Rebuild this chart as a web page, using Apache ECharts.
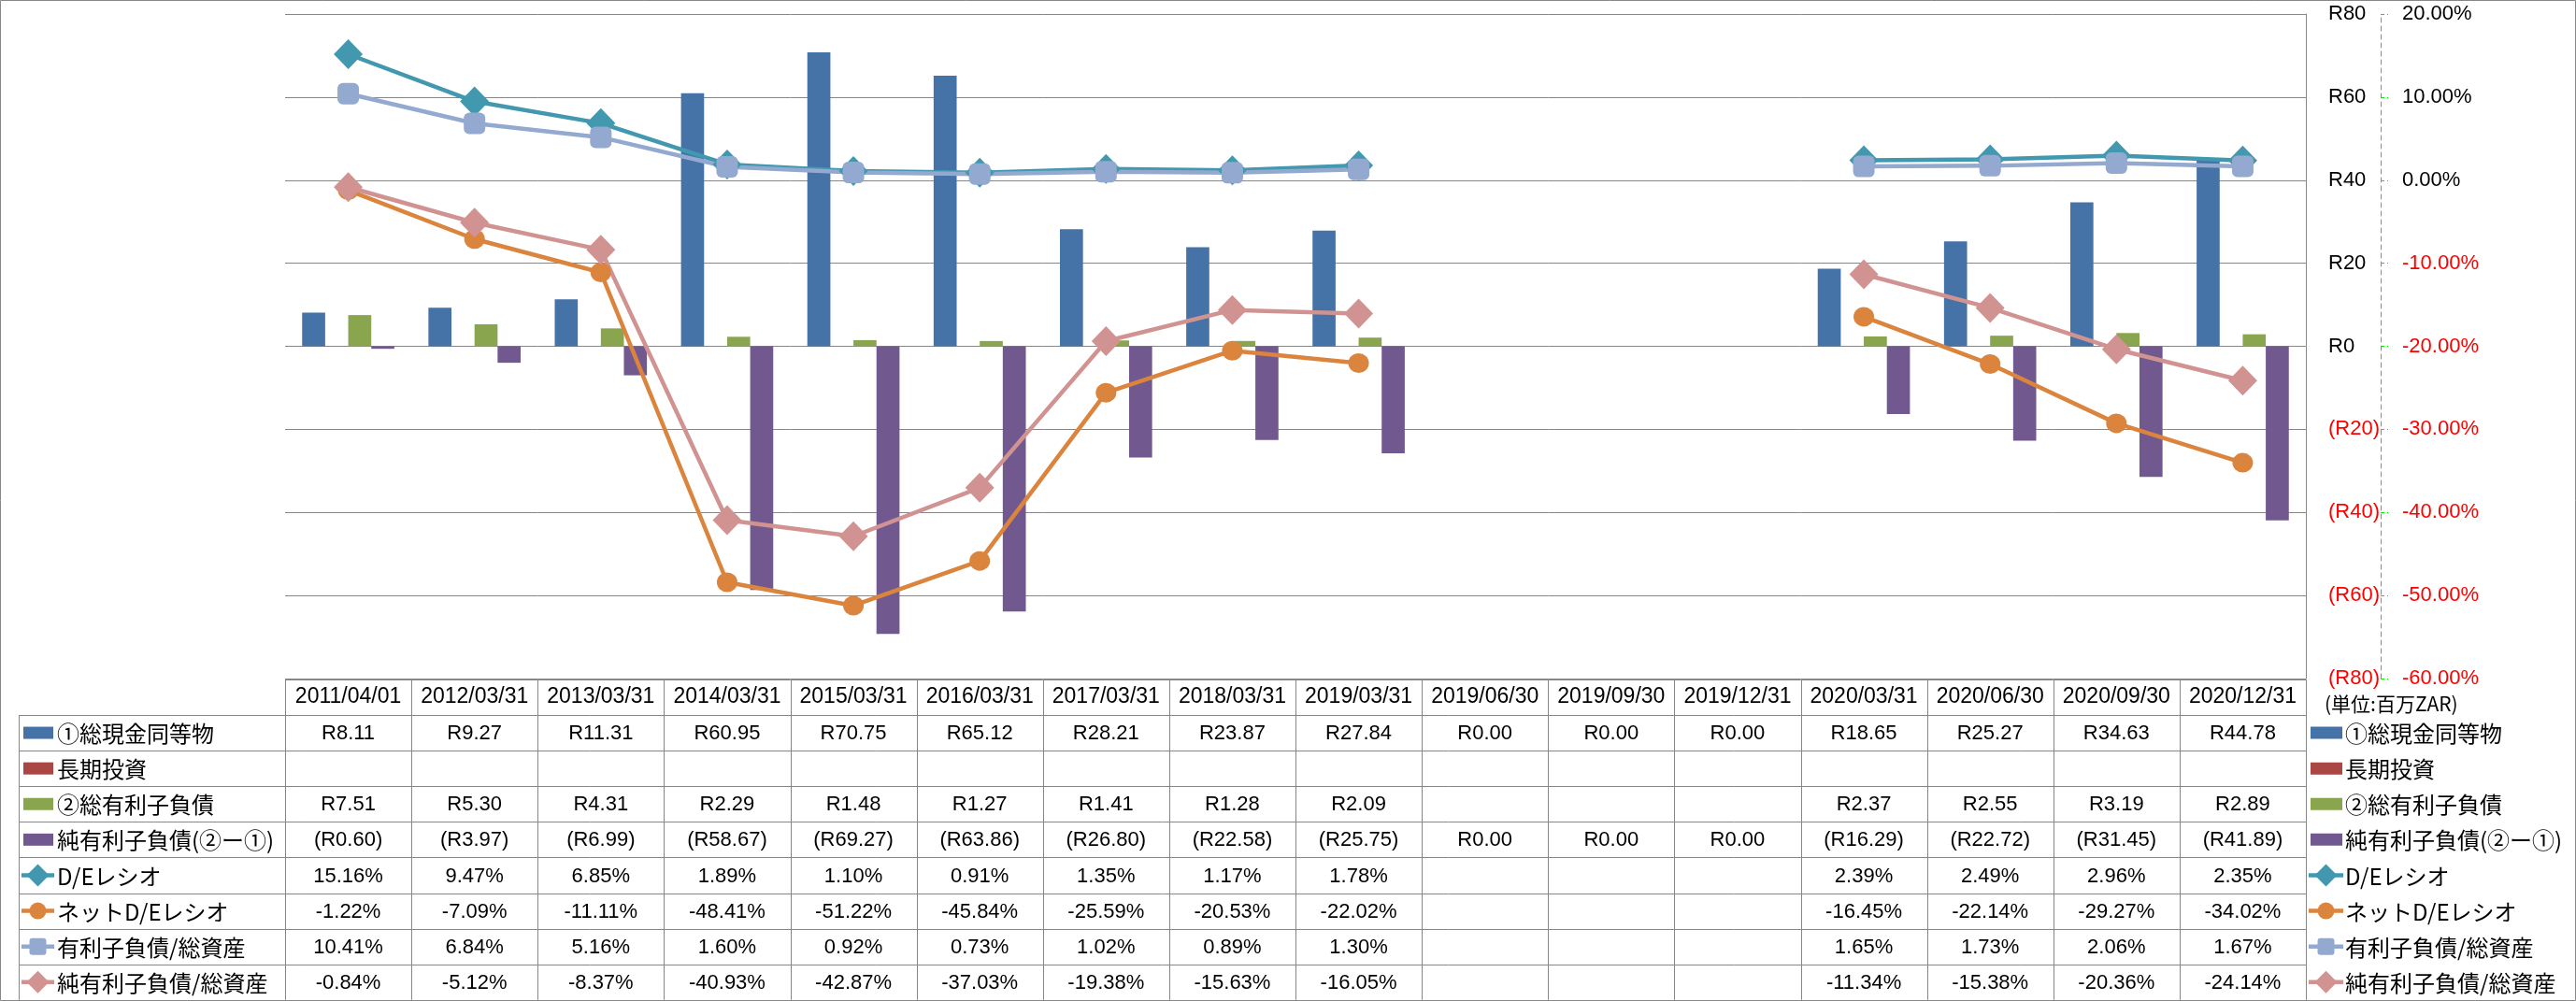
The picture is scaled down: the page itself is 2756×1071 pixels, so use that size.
<!DOCTYPE html>
<html>
<head>
<meta charset="utf-8">
<script src="https://cdn.jsdelivr.net/npm/echarts@6/dist/echarts.min.js"></script>
<style>
html,body{margin:0;padding:0;background:#fff;}
#chart{width:2756px;height:1071px;}
</style>
</head>
<body>
<div id="chart"></div>
<script>
// ---------------- DATA ----------------
const categories = ['2011/04/01','2012/03/31','2013/03/31','2014/03/31','2015/03/31','2016/03/31','2017/03/31','2018/03/31','2019/03/31','2019/06/30','2019/09/30','2019/12/31','2020/03/31','2020/06/30','2020/09/30','2020/12/31'];
const cash            = [8.11, 9.27, 11.31, 60.95, 70.75, 65.12, 28.21, 23.87, 27.84, 0, 0, 0, 18.65, 25.27, 34.63, 44.78];
const longInvest      = [null,null,null,null,null,null,null,null,null,null,null,null,null,null,null,null];
const debt            = [7.51, 5.30, 4.31, 2.29, 1.48, 1.27, 1.41, 1.28, 2.09, null, null, null, 2.37, 2.55, 3.19, 2.89];
const netDebt         = [-0.60, -3.97, -6.99, -58.67, -69.27, -63.86, -26.80, -22.58, -25.75, 0, 0, 0, -16.29, -22.72, -31.45, -41.89];
const deRatio         = [15.16, 9.47, 6.85, 1.89, 1.10, 0.91, 1.35, 1.17, 1.78, null, null, null, 2.39, 2.49, 2.96, 2.35];
const netDeRatio      = [-1.22, -7.09, -11.11, -48.41, -51.22, -45.84, -25.59, -20.53, -22.02, null, null, null, -16.45, -22.14, -29.27, -34.02];
const debtToAssets    = [10.41, 6.84, 5.16, 1.60, 0.92, 0.73, 1.02, 0.89, 1.30, null, null, null, 1.65, 1.73, 2.06, 1.67];
const netDebtToAssets = [-0.84, -5.12, -8.37, -40.93, -42.87, -37.03, -19.38, -15.63, -16.05, null, null, null, -11.34, -15.38, -20.36, -24.14];
const seriesNames = ['①総現金同等物','長期投資','②総有利子負債','純有利子負債(②ー①)','D/Eレシオ','ネットD/Eレシオ','有利子負債/総資産','純有利子負債/総資産'];
const unitLabel = '(単位:百万ZAR)';

// ---------------- STYLE / LAYOUT ----------------
const colors = ['#4572A7','#AA4643','#89A54E','#71588F','#4198AF','#DB843D','#93A9CF','#D19392'];
const NUM_FONT = '"Liberation Sans", Arial, sans-serif';
const JP_FONT = '"Noto Sans CJK JP", sans-serif';
const GRID_COLOR = '#878787';
const PLOT_L = 305, PLOT_R = 2467, PLOT_T = 15, PLOT_B = 726;
const TABLE_TOP = 727, ROW0 = 765, ROW_H = 38.1, TABLE_L = 20;

function fmtMoney(v){ if(v==null) return ''; return v<0 ? '(R'+(-v).toFixed(2)+')' : 'R'+v.toFixed(2); }
function fmtPct(v){ if(v==null) return ''; return v.toFixed(2)+'%'; }
function fmtAxisMoney(v){ return v<0 ? '(R'+(-v)+')' : 'R'+v; }
function fmtAxisPct(v){ return Number(v).toFixed(2)+'%'; }

const rows = [
  {name:seriesNames[0], data:cash, kind:'bar', fmt:fmtMoney},
  {name:seriesNames[1], data:longInvest, kind:'bar', fmt:fmtMoney},
  {name:seriesNames[2], data:debt, kind:'bar', fmt:fmtMoney},
  {name:seriesNames[3], data:netDebt, kind:'bar', fmt:fmtMoney},
  {name:seriesNames[4], data:deRatio, kind:'line', symbol:'diamond', fmt:fmtPct},
  {name:seriesNames[5], data:netDeRatio, kind:'line', symbol:'circle', fmt:fmtPct},
  {name:seriesNames[6], data:debtToAssets, kind:'line', symbol:'roundRect', fmt:fmtPct},
  {name:seriesNames[7], data:netDebtToAssets, kind:'line', symbol:'diamond', fmt:fmtPct}
];
const symbolSizes = {diamond:[31,32], circle:[22,21], roundRect:[23,23]};

const series = rows.map((r,i)=>{
  if(r.kind==='bar'){
    return {name:r.name, type:'bar', yAxisIndex:0, data:r.data, barGap:'0%', barCategoryGap:'27%',
      itemStyle:{color:colors[i]}, z:2};
  }
  return {name:r.name, type:'line', yAxisIndex:1, data:r.data, connectNulls:false,
    symbol:r.symbol, symbolSize:symbolSizes[r.symbol], showSymbol:true, showAllSymbol:true,
    lineStyle:{color:colors[i], width:4.5}, itemStyle:{color:colors[i]}, z:3};
});

const chart = echarts.init(document.getElementById('chart'), null, {renderer:'canvas'});
const option = {
  animation:false,
  backgroundColor:'#ffffff',
  grid:{left:PLOT_L, right:2756-PLOT_R, top:PLOT_T, bottom:1071-PLOT_B, containLabel:false},
  xAxis:{type:'category', data:categories, boundaryGap:true,
    axisLine:{show:false, onZero:false}, axisTick:{show:false}, splitLine:{show:false},
    axisLabel:{interval:0, margin:8, fontSize:23, fontFamily:NUM_FONT, color:'#000'}},
  yAxis:[
    {type:'value', position:'right', min:-80, max:80, interval:20,
      axisLine:{show:true, lineStyle:{color:GRID_COLOR, width:1}}, axisTick:{show:false},
      splitLine:{show:true, lineStyle:{color:GRID_COLOR, width:1}},
      axisLabel:{margin:24, fontSize:22, fontFamily:NUM_FONT, formatter:fmtAxisMoney,
        color:(v)=> Number(v)<0 ? '#FF0000' : '#000000'}},
    {type:'value', position:'right', offset:2547-PLOT_R, min:-60, max:20, interval:10,
      axisLine:{show:true, lineStyle:{color:'#00EE00', width:1, type:[5,4]}},
      axisTick:{show:true, inside:false, length:8, lineStyle:{color:'#00EE00', width:1, type:[4,3]}},
      splitLine:{show:false},
      axisLabel:{margin:23, fontSize:22, fontFamily:NUM_FONT, formatter:fmtAxisPct,
        color:(v)=> Number(v)<0 ? '#FF0000' : '#000000'}}
  ],
  series:series
};
chart.setOption(option);

// ---------------- TABLE + LEGENDS (graphic) ----------------
const g = [];
const line = (x1,y1,x2,y2,color,w)=>g.push({type:'line', silent:true, z:10,
  shape:{x1,y1,x2,y2}, style:{stroke:color||GRID_COLOR, lineWidth:w||1}});
// outer chart border
g.push({type:'rect', silent:true, z:0, shape:{x:0.5,y:0.5,width:2755,height:1070},
  style:{fill:'none', stroke:GRID_COLOR, lineWidth:1}});

const n = categories.length;
const colW = (PLOT_R-PLOT_L)/n;
const nRows = rows.length;
const tableBottom = ROW0 + ROW_H*nRows;
// horizontal lines
line(PLOT_L, TABLE_TOP+0.5, PLOT_R, TABLE_TOP+0.5);
for(let k=0;k<=nRows;k++){
  const y = Math.round(ROW0 + ROW_H*k)+0.5;
  line(TABLE_L, y, PLOT_R, y);
}
// vertical lines
for(let c=0;c<=n;c++){
  const x = Math.round(PLOT_L + colW*c)+0.5;
  line(x, TABLE_TOP, x, tableBottom);
}
line(TABLE_L+0.5, ROW0, TABLE_L+0.5, tableBottom);

function legendIcon(row, i, xLeft, lineLen, cy){
  const color = colors[i];
  if(row.kind==='bar'){
    g.push({type:'rect', silent:true, z:11, shape:{x:xLeft+2, y:cy-6.5, width:lineLen-3, height:13}, style:{fill:color}});
  } else {
    const cx = xLeft + lineLen/2;
    g.push({type:'line', silent:true, z:11, shape:{x1:xLeft, y1:cy, x2:xLeft+lineLen, y2:cy}, style:{stroke:color, lineWidth:4.5}});
    if(row.symbol==='diamond'){
      const w=24,h=24;
      g.push({type:'polygon', silent:true, z:12, shape:{points:[[cx,cy-h/2],[cx+w/2,cy],[cx,cy+h/2],[cx-w/2,cy]]}, style:{fill:color}});
    } else if(row.symbol==='circle'){
      g.push({type:'circle', silent:true, z:12, shape:{cx, cy, r:9}, style:{fill:color}});
    } else {
      g.push({type:'rect', silent:true, z:12, shape:{x:cx-9, y:cy-9, width:18, height:18, r:3}, style:{fill:color}});
    }
  }
}

rows.forEach((row,i)=>{
  const cy = ROW0 + ROW_H*(i+0.5);
  // left row header
  legendIcon(row, i, 23, 35, cy);
  g.push({type:'text', silent:true, z:11, x:61, y:cy+1,
    style:{text:row.name, fill:'#000', fontSize:24, fontFamily:JP_FONT, align:'left', verticalAlign:'middle'}});
  // right legend
  legendIcon(row, i, 2470, 37, cy);
  g.push({type:'text', silent:true, z:11, x:2509, y:cy+1,
    style:{text:row.name, fill:'#000', fontSize:24, fontFamily:JP_FONT, align:'left', verticalAlign:'middle'}});
  // values
  row.data.forEach((v,c)=>{
    const txt = row.fmt(v);
    if(!txt) return;
    const cx = chart.convertToPixel({xAxisIndex:0}, c);
    g.push({type:'text', silent:true, z:11, x:cx, y:cy+1,
      style:{text:txt, fill:'#000', fontSize:22, fontFamily:NUM_FONT, align:'center', verticalAlign:'middle'}});
  });
});
// unit label
g.push({type:'text', silent:true, z:11, x:2487, y:753,
  style:{text:unitLabel, fill:'#000', fontSize:21, fontFamily:JP_FONT, align:'left', verticalAlign:'middle'}});

chart.setOption({graphic:g});
</script>
</body>
</html>
